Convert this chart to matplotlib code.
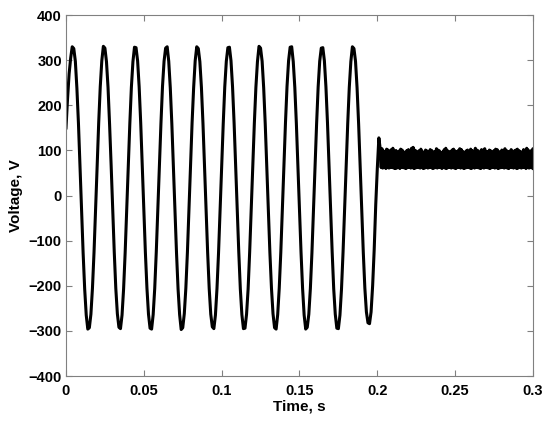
import numpy as np
import matplotlib
matplotlib.use("Agg")
import matplotlib.pyplot as plt

volt_sine = [
    150, 215, 270, 305, 330, 326, 298, 238, 160, 66, -32, -127, -207, -265, -296, -293, -263, -205, -126, -33,
    64, 161, 241, 299, 331, 327, 297, 240, 158, 67, -31, -125, -206, -262, -292, -295, -265, -207, -127, -32,
    66, 159, 240, 297, 329, 328, 299, 241, 161, 65, -33, -126, -205, -263, -294, -296, -264, -206, -125, -31,
    67, 160, 242, 298, 327, 330, 298, 239, 159, 66, -32, -127, -207, -264, -297, -293, -262, -205, -126, -33,
    65, 161, 239, 299, 330, 326, 297, 240, 160, 67, -31, -126, -206, -263, -291, -295, -265, -206, -127, -32,
    66, 158, 241, 298, 328, 329, 299, 241, 161, 65, -33, -125, -207, -264, -295, -294, -263, -207, -125, -31,
    67, 160, 240, 297, 331, 327, 298, 239, 159, 66, -32, -127, -205, -262, -293, -296, -264, -205, -126, -33,
    65, 161, 242, 299, 329, 330, 297, 240, 160, 67, -31, -126, -206, -265, -296, -292, -263, -206, -127, -32,
    66, 159, 241, 298, 327, 328, 299, 241, 161, 65, -33, -125, -207, -263, -294, -295, -265, -207, -125, -31,
    67, 160, 240, 297, 330, 326, 298, 239, 159, 66, -32, -126, -205, -258, -282, -284, -258, -200, -120, -20,
    60, 128,
]
t_step = 0.001

# after 0.2 s: ripple band, upper and lower samples (1 ms apart, offset by half a step)
band_start = 0.202
band_top = [
    100, 104, 99, 97, 103, 101, 96, 102, 105, 98,
    100, 95, 99, 103, 101, 97, 94, 100, 102, 98,
    105, 107, 101, 99, 96, 100, 103, 98, 95, 101,
    99, 97, 102, 100, 96, 98, 104, 101, 99, 95,
    97, 102, 105, 100, 98, 96, 101, 103, 99, 97,
    100, 104, 102, 98, 95, 99, 101, 97, 103, 100,
    98, 105, 101, 99, 96, 102, 100, 104, 98, 97,
    101, 99, 95, 100, 103, 102, 98, 96, 101, 99,
    104, 100, 97, 98, 102, 95, 99, 101, 103, 100,
    98, 96, 102, 99, 105, 101, 97, 100, 104,
]
band_low = [
    62, 61, 63, 60, 62, 61, 62, 63, 61, 60,
    61, 62, 60, 63, 62, 61, 60, 62, 63, 61,
    62, 60, 61, 63, 62, 61, 62, 60, 61, 63,
    61, 62, 63, 60, 61, 62, 61, 63, 62, 60,
    62, 61, 60, 62, 63, 61, 62, 61, 60, 62,
    63, 61, 62, 60, 61, 62, 63, 61, 60, 62,
    61, 63, 62, 61, 60, 62, 61, 63, 62, 61,
    60, 62, 63, 61, 62, 60, 61, 62, 63, 61,
    62, 61, 60, 63, 62, 61, 62, 60, 61, 63,
    61, 62, 63, 60, 62, 61, 62, 61, 60,
]

x_ticks = [0, 0.05, 0.1, 0.15, 0.2, 0.25, 0.3]
x_labels = ["0", "0.05", "0.1", "0.15", "0.2", "0.25", "0.3"]
y_ticks = [-400, -300, -200, -100, 0, 100, 200, 300, 400]

# build the full trace
t_sine = np.arange(len(volt_sine)) * t_step
t_top = band_start + np.arange(len(band_top)) * t_step
t_low = t_top + t_step / 2
t_band = np.column_stack([t_top, t_low]).ravel()
v_band = np.column_stack([band_top, band_low]).ravel()
t_all = np.concatenate([t_sine, t_band])
v_all = np.concatenate([volt_sine, v_band])

plt.rcParams['font.family'] = ['Liberation Sans', 'DejaVu Sans']
plt.rcParams['font.weight'] = 'bold'

fig = plt.figure(figsize=(5.5, 4.22), dpi=100)
ax = fig.add_axes([0.12, 0.109, 0.849, 0.855])

ax.plot(t_all, v_all, color='black', linewidth=2.2, solid_joinstyle='round')

ax.set_xlim(0, 0.3)
ax.set_ylim(-400, 400)
ax.set_xticks(x_ticks)
ax.set_xticklabels(x_labels)
ax.set_yticks(y_ticks)

for s in ax.spines.values():
    s.set_color('#808080')
    s.set_linewidth(0.8)

ax.tick_params(direction='in', top=True, right=True, length=4, width=0.8,
               color='#808080', labelsize=10.5, labelcolor='black')
ax.tick_params(axis='x', pad=6)
ax.tick_params(axis='y', pad=3)

ax.set_xlabel("Time, s", fontsize=11, fontweight='bold', labelpad=1)
ax.set_ylabel("Voltage, V", fontsize=11, fontweight='bold', labelpad=4)

fig.savefig("out.png", dpi=100)
